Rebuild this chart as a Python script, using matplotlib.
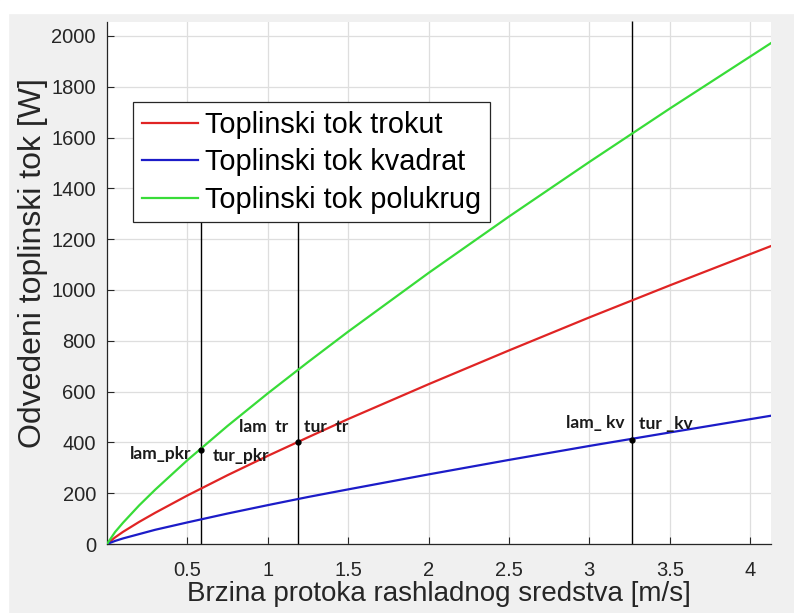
import numpy as np
import matplotlib.pyplot as plt
from matplotlib.patches import Rectangle

# brzina [m/s]
v = [0, 0.05, 0.1, 0.2, 0.3, 0.5, 0.75, 1.0, 1.25, 1.5, 2.0, 2.5, 3.0, 3.5, 4.13]
# toplinski tok [W]
q_trokut = [0, 26, 48, 87, 123, 191, 271, 347, 420, 492, 629, 762, 892, 1018, 1173]
q_kvadrat = [0, 12, 22, 39, 56, 85, 120, 153, 185, 215, 274, 331, 386, 439, 505]
q_polukrug = [0, 47, 84, 152, 214, 330, 465, 593, 716, 836, 1067, 1289, 1504, 1714, 1972]

# prijelaz laminarno / turbulentno
v_prijelaz = [0.585, 1.185, 3.267]
q_prijelaz = [372, 400, 409]
q_linija_vrh = [1300, 1300, 2060]
lam_labels = ["lam_pkr", "lam  tr", "lam_ kv"]
tur_labels = ["tur_pkr", "tur  tr", "tur _kv"]
lam_off = [(-10, -4), (-9, 15), (-8, 17)]
tur_off = [(12, -6), (6, 15), (7, 16)]

names = ["Toplinski tok trokut", "Toplinski tok kvadrat", "Toplinski tok polukrug"]
colors = ["#e02424", "#1c1cc8", "#38dc38"]

plt.rcParams['font.family'] = ['Liberation Sans', 'DejaVu Sans']
fig = plt.figure(figsize=(7.94, 6.13), dpi=100, facecolor='#f0f0f0')
fig.add_artist(Rectangle((0, 1 - 13/613), 1, 13/613, transform=fig.transFigure, color='white', zorder=0))
fig.add_artist(Rectangle((0, 0), 8/794, 1, transform=fig.transFigure, color='white', zorder=0))
ax = fig.add_axes([107/794, 69/613, 664/794, 522/613])
ax.set_facecolor('white')

for q, name, c in zip([q_trokut, q_kvadrat, q_polukrug], names, colors):
    ax.plot(v, q, color=c, lw=1.6, label=name, zorder=3)

ax.vlines(v_prijelaz, 0, q_linija_vrh, color='black', lw=1.0, zorder=2, clip_on=False)
ax.plot(v_prijelaz, q_prijelaz, 'o', color='black', ms=3.5, zorder=4)

for x, y, lt, tt, lo, to in zip(v_prijelaz, q_prijelaz, lam_labels, tur_labels, lam_off, tur_off):
    ax.annotate(lt, (x, y), xytext=lo, textcoords='offset pixels', ha='right', va='center',
                fontsize=12.5, fontweight='bold', family=['Lato', 'DejaVu Sans'], color='#1a1a1a', zorder=5)
    ax.annotate(tt, (x, y), xytext=to, textcoords='offset pixels', ha='left', va='center',
                fontsize=12.5, fontweight='bold', family=['Lato', 'DejaVu Sans'], color='#1a1a1a', zorder=5)

ax.set_xlim(0, 4.13)
ax.set_ylim(0, 2055)
ax.set_xticks([0.5, 1, 1.5, 2, 2.5, 3, 3.5, 4])
ax.set_xticklabels(['0.5', '1', '1.5', '2', '2.5', '3', '3.5', '4'])
ax.set_yticks(np.arange(0, 2001, 200))
ax.grid(True, color='#dedede', lw=0.9, zorder=0)
ax.set_axisbelow(True)
ax.tick_params(direction='in', length=5, width=0.8, colors='#262626', labelsize=14.5, pad=8)
ax.tick_params(axis='x', pad=12)
for s in ['top', 'right']:
    ax.spines[s].set_visible(False)
for s in ['left', 'bottom']:
    ax.spines[s].set_color('#262626')
    ax.spines[s].set_linewidth(0.9)

ax.set_xlabel("Brzina protoka rashladnog sredstva [m/s]", fontsize=20, color='#262626', labelpad=1)
ax.set_ylabel("Odvedeni toplinski tok [W]", fontsize=23, color='#262626')
ax.yaxis.set_label_coords(-0.089, 0.538)

leg = ax.legend(loc='upper left', bbox_to_anchor=(26/664, 1 - 80/522), fontsize=20.8, frameon=True,
                fancybox=False, edgecolor='#262626', framealpha=1, handlelength=1.95, handletextpad=0.25,
                borderpad=0.3, labelspacing=0.33, borderaxespad=0)
leg.get_frame().set_linewidth(0.9)
leg.set_zorder(10)

plt.savefig('out.png', dpi=100, facecolor=fig.get_facecolor())
